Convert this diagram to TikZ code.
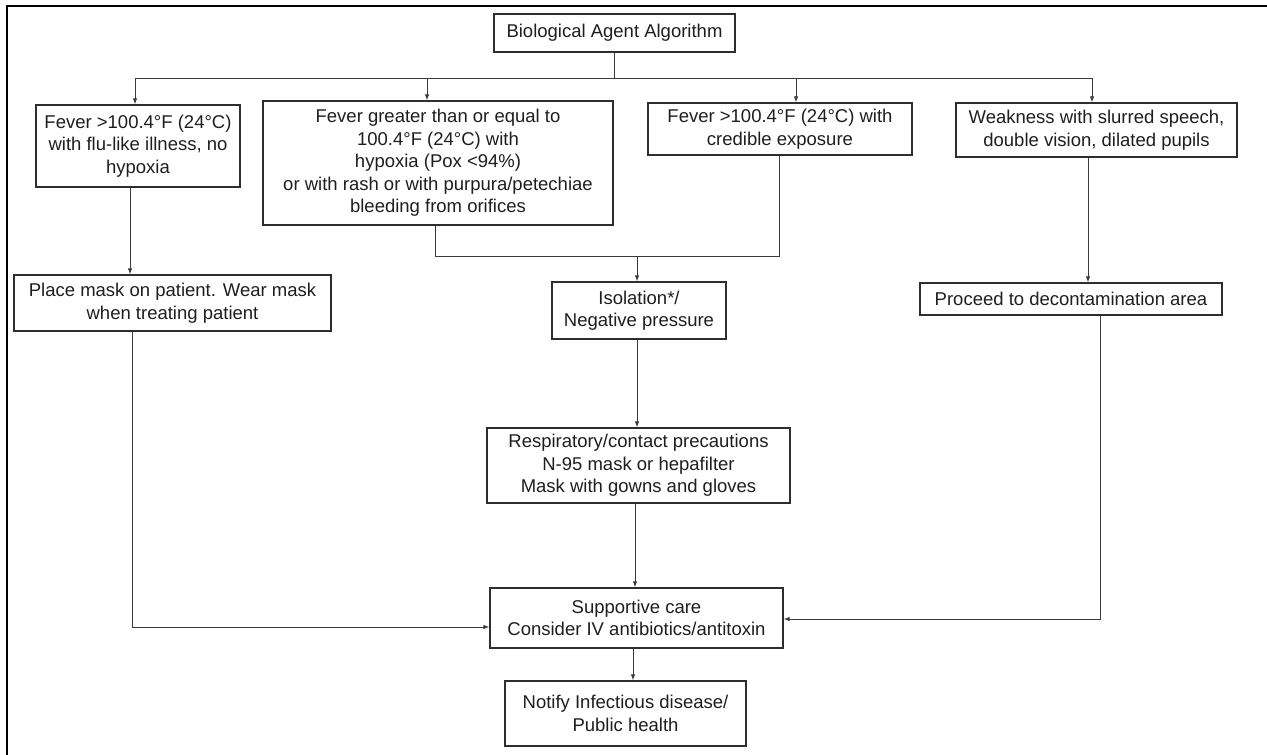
\documentclass[tikz,border=0pt]{standalone}
\usepackage{fontspec}
\setmainfont{Liberation Sans}
\usetikzlibrary{arrows.meta}
\definecolor{boxc}{HTML}{2E2E2E}
\definecolor{linec}{HTML}{3A3A3A}
\definecolor{textc}{HTML}{1E1E1E}
\begin{document}
\begin{tikzpicture}[x=1pt,y=-1pt,
  box/.style={draw=boxc, line width=1.3pt, align=center, inner sep=2pt, text=textc,
    font=\fontsize{18.5}{22.5}\selectfont},
  conn/.style={draw=linec, line width=1pt},
  arr/.style={conn, -{Latex[length=6pt,width=4.5pt]}},
  frame/.style={draw=black, line width=1.2pt}]
\useasboundingbox (0,0) rectangle (1267,755);
% partial outer frame
\coordinate (fTR) at (1267,6);
\coordinate (fTL) at (7,6);
\coordinate (fBL) at (7,755);
\draw[frame] (fTR) -- (fTL) -- (fBL);

% nodes
\node[box, minimum width=241pt, minimum height=38pt] (title) at (614.5,33) {Biological Agent Algorithm};
\node[box, minimum width=204pt, minimum height=82pt] (fever1) at (138,146) {Fever >100.4°F (24°C)\\with flu-like illness, no\\hypoxia};
\node[box, minimum width=350pt, minimum height=124pt] (fever2) at (438,163) {Fever greater than or equal to\\100.4°F (24°C) with\\hypoxia (Pox <94\%)\\or with rash or with purpura/petechiae\\bleeding from orifices};
\node[box, minimum width=264pt, minimum height=52pt] (cred) at (780,129) {Fever >100.4°F (24°C) with\\credible exposure};
\node[box, minimum width=281pt, minimum height=54pt] (weak) at (1096.5,130) {Weakness with slurred speech,\\double vision, dilated pupils};
\node[box, minimum width=317pt, minimum height=56pt] (mask) at (172.5,303) {Place mask on patient. Wear mask\\when treating patient};
\node[box, minimum width=174pt, minimum height=57pt] (iso) at (639,310.5) {Isolation*/\\Negative pressure};
\node[box, minimum width=302pt, minimum height=32pt] (decon) at (1071,299) {Proceed to decontamination area};
\node[box, minimum width=303pt, minimum height=75pt] (resp) at (638.5,465.5) {Respiratory/contact precautions\\N-95 mask or hepafilter\\Mask with gowns and gloves};
\node[box, minimum width=293pt, minimum height=60pt] (supp) at (636.5,618) {Supportive care\\Consider IV antibiotics/antitoxin};
\node[box, minimum width=241pt, minimum height=65pt] (notify) at (625.5,713.5) {Notify Infectious disease/\\Public health};

% bus coordinates
\coordinate (busL) at (135,78);
\coordinate (busR) at (1092,78);
\coordinate (busT) at (614.5,78);
\coordinate (b2) at (427,78);
\coordinate (b3) at (796,78);
\coordinate (m1) at (435,256);
\coordinate (m2) at (779,256);
\coordinate (m3) at (637,256);
\coordinate (s1) at (130,200);
\coordinate (w1) at (1088,200);
\coordinate (c1) at (637,400);
\coordinate (c2) at (635,550);
\coordinate (c3) at (633,660);
\coordinate (l1) at (132,627);
\coordinate (r1) at (1100,619);

% connectors
\draw[conn] (title.south) -- (busT);
\draw[conn] (busL) -- (busR);
\draw[arr] (busL) -- (busL |- fever1.north);
\draw[arr] (b2) -- (b2 |- fever2.north);
\draw[arr] (b3) -- (b3 |- cred.north);
\draw[arr] (busR) -- (busR |- weak.north);
\draw[arr] (s1 |- fever1.south) -- (s1 |- mask.north);
\draw[conn] (m1 |- fever2.south) -- (m1) -- (m2) -- (m2 |- cred.south);
\draw[arr] (m3) -- (m3 |- iso.north);
\draw[arr] (w1 |- weak.south) -- (w1 |- decon.north);
\draw[arr] (c1 |- iso.south) -- (c1 |- resp.north);
\draw[arr] (c2 |- resp.south) -- (c2 |- supp.north);
\draw[arr] (l1 |- mask.south) -- (l1) -- (l1 -| supp.west);
\draw[arr] (r1 |- decon.south) -- (r1) -- (r1 -| supp.east);
\draw[arr] (c3 |- supp.south) -- (c3 |- notify.north);
\end{tikzpicture}
\end{document}
